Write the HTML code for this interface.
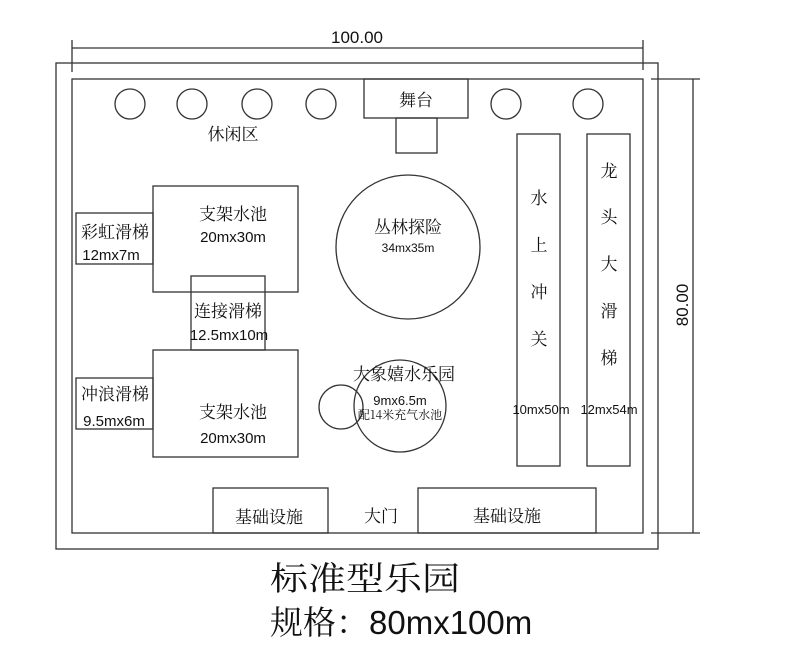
<!DOCTYPE html>
<html><head><meta charset="utf-8"><style>
html,body{margin:0;padding:0;background:#fff;}
svg{display:block;}
text{font-family:"Liberation Sans","Noto Serif CJK SC",serif;fill:#111;}
.c{font-family:"Noto Serif CJK SC","WenQuanYi Zen Hei",serif;}
</style></head><body>
<svg width="800" height="655" viewBox="0 0 800 655" xmlns="http://www.w3.org/2000/svg">
<g fill="none" stroke="#333" stroke-width="1.3">
<rect x="56" y="63" width="602" height="486"/>
<rect x="72" y="79" width="571" height="454"/>
<line x1="72" y1="48" x2="643" y2="48"/>
<line x1="72" y1="40" x2="72" y2="72"/>
<line x1="643" y1="40" x2="643" y2="70"/>
<line x1="693" y1="79" x2="693" y2="533"/>
<line x1="651" y1="79" x2="700" y2="79"/>
<line x1="651" y1="533" x2="700" y2="533"/>
<circle cx="130" cy="104" r="15"/>
<circle cx="192" cy="104" r="15"/>
<circle cx="257" cy="104" r="15"/>
<circle cx="321" cy="104" r="15"/>
<circle cx="506" cy="104" r="15"/>
<circle cx="588" cy="104" r="15"/>
<rect x="364" y="79" width="104" height="39"/>
<rect x="396" y="118" width="41" height="35"/>
<rect x="153" y="186" width="145" height="106"/>
<rect x="76" y="213" width="77" height="51"/>
<rect x="191" y="276" width="74" height="74"/>
<rect x="153" y="350" width="145" height="107"/>
<rect x="76" y="378" width="77" height="51"/>
<circle cx="408" cy="247" r="72"/>
<circle cx="341" cy="407" r="22"/>
<circle cx="400" cy="406" r="46"/>
<rect x="517" y="134" width="43" height="332"/>
<rect x="587" y="134" width="43" height="332"/>
<rect x="213" y="488" width="115" height="45"/>
<rect x="418" y="488" width="178" height="45"/>
</g>
<text x="357" y="43" font-size="17" text-anchor="middle">100.00</text>
<text x="0" y="0" font-size="17" text-anchor="middle" transform="translate(688 305) rotate(-90)">80.00</text>
<g class="c" text-anchor="middle">
<text class="c" x="416" y="106" font-size="17">舞台</text>
<text class="c" x="233" y="140" font-size="17">休闲区</text>
<text class="c" x="233" y="220" font-size="17">支架水池</text>
<text class="c" x="115" y="238" font-size="17">彩虹滑梯</text>
<text class="c" x="228" y="317" font-size="17">连接滑梯</text>
<text class="c" x="233" y="418" font-size="17">支架水池</text>
<text class="c" x="115" y="400" font-size="17">冲浪滑梯</text>
<text class="c" x="408" y="233" font-size="17">丛林探险</text>
<text class="c" x="404" y="380" font-size="17">大象嬉水乐园</text>
<text class="c" x="400" y="419" font-size="12">配14米充气水池</text>
<text class="c" x="269" y="523" font-size="17">基础设施</text>
<text class="c" x="381" y="522" font-size="17">大门</text>
<text class="c" x="507" y="522" font-size="17">基础设施</text>
<text class="c" x="539" y="204" font-size="17">水</text>
<text class="c" x="539" y="251" font-size="17">上</text>
<text class="c" x="539" y="298" font-size="17">冲</text>
<text class="c" x="539" y="345" font-size="17">关</text>
<text class="c" x="609" y="177" font-size="17">龙</text>
<text class="c" x="609" y="223" font-size="17">头</text>
<text class="c" x="609" y="270" font-size="17">大</text>
<text class="c" x="609" y="317" font-size="17">滑</text>
<text class="c" x="609" y="364" font-size="17">梯</text>
</g>
<text class="c" x="270" y="590" font-size="33" textLength="190" lengthAdjust="spacingAndGlyphs">标准型乐园</text>
<text x="270" y="634" font-size="33"><tspan class="c">规格：</tspan><tspan font-family="Liberation Sans">80mx100m</tspan></text>
<g text-anchor="middle">
<text x="233" y="242" font-size="15">20mx30m</text>
<text x="111" y="260" font-size="15">12mx7m</text>
<text x="229" y="340" font-size="15">12.5mx10m</text>
<text x="233" y="443" font-size="15">20mx30m</text>
<text x="114" y="426" font-size="15">9.5mx6m</text>
<text x="408" y="252" font-size="12">34mx35m</text>
<text x="400" y="405" font-size="13">9mx6.5m</text>
<text x="541" y="414" font-size="13">10mx50m</text>
<text x="609" y="414" font-size="13">12mx54m</text>
</g>
</svg>
</body></html>
